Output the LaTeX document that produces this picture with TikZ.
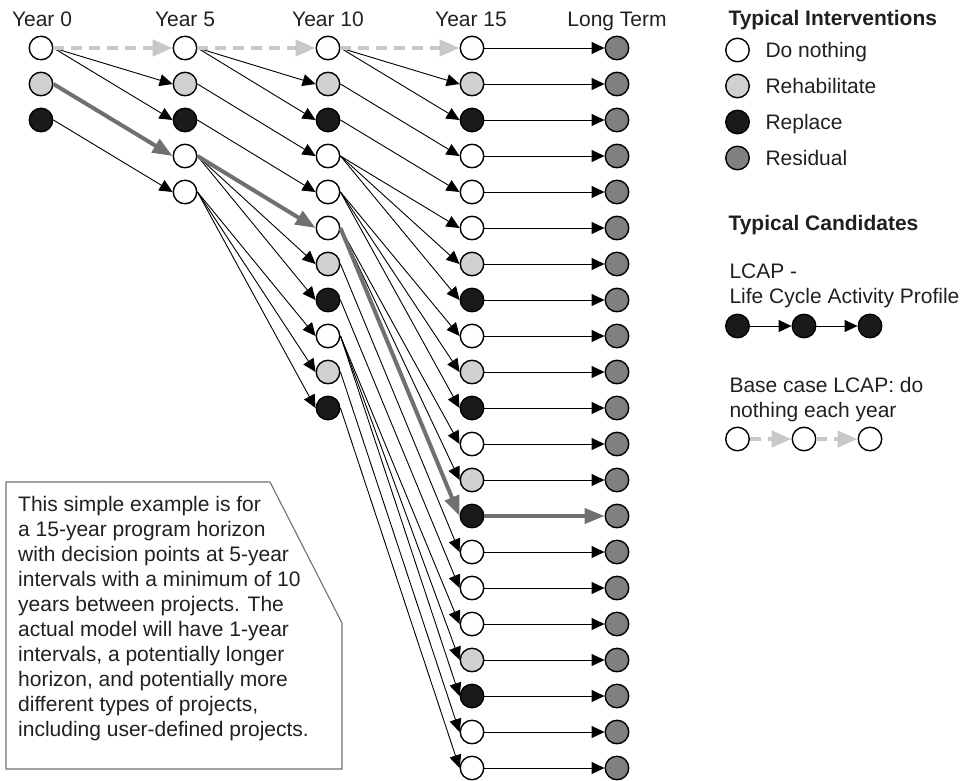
\documentclass[tikz,border=0pt]{standalone}
\usepackage{fontspec}
\setmainfont{Liberation Sans}
\usetikzlibrary{arrows.meta}
\definecolor{rehabc}{HTML}{D0D0D0}
\definecolor{replc}{HTML}{1A1A1A}
\definecolor{residc}{HTML}{808080}
\definecolor{dashc}{HTML}{C8C8C8}
\definecolor{pathc}{HTML}{707070}
\definecolor{boxc}{HTML}{707070}
\definecolor{inkc}{HTML}{231F20}
\begin{document}
\begin{tikzpicture}[x=1pt,y=-1pt,
  font=\fontsize{21}{25}\selectfont, text=inkc,
  stage/.style={circle, draw=black, line width=1.4pt, minimum size=23.5pt, inner sep=0pt},
  link/.style={line width=0.9pt, -{Triangle[length=13pt,width=12pt]}},
  basecase/.style={draw=dashc, line width=4.5pt, dash pattern=on 11pt off 7pt,
    -{Triangle[length=20pt,width=16pt,fill=dashc]}},
  chosen/.style={draw=pathc, line width=4pt, -{Triangle[length=20pt,width=15pt,fill=pathc]}},
  head/.style={anchor=base},
  legtext/.style={anchor=base west},
  notebox/.style={draw=boxc, line width=1.1pt},
]
\useasboundingbox (0,0) rectangle (961,780);

% column headings
\node[head] (h0) at (42,26) {Year 0};
\node[head] (h5) at (185,26) {Year 5};
\node[head] (h10) at (328,26) {Year 10};
\node[head] (h15) at (471,26) {Year 15};
\node[head] (hlt) at (617,26) {Long Term};

% decision stages
\foreach \c [count=\i from 0] in {white,rehabc,replc}
  \node[stage, fill=\c] (a\i) at (41,{48+36*\i}) {};
\foreach \c [count=\i from 0] in {white,rehabc,replc,white,white}
  \node[stage, fill=\c] (b\i) at (185,{48+36*\i}) {};
\foreach \c [count=\i from 0] in {white,rehabc,replc,white,white,white,rehabc,replc,white,rehabc,replc}
  \node[stage, fill=\c] (c\i) at (328,{48+36*\i}) {};
\foreach \c [count=\i from 0] in {white,rehabc,replc,white,white,white,rehabc,replc,white,rehabc,replc,white,rehabc,replc,white,white,white,rehabc,replc,white,white}
  \node[stage, fill=\c] (d\i) at (472,{48+36*\i}) {};
\foreach \i in {0,...,20}
  \node[stage, fill=residc] (e\i) at (617,{48+36*\i}) {};

% year 0 -> year 5
\foreach \s/\t in {0/1,0/2,2/4}
  \draw[link] (a\s.east) -- (b\t.west);
\draw[basecase] (a0.east) -- (b0.west);
\draw[chosen] (a1.east) -- (b3.west);

% year 5 -> year 10
\foreach \s/\t in {0/1,0/2,1/3,2/4,3/6,3/7,4/8,4/9,4/10}
  \draw[link] (b\s.east) -- (c\t.west);
\draw[basecase] (b0.east) -- (c0.west);
\draw[chosen] (b3.east) -- (c5.west);

% year 10 -> year 15
\foreach \s/\t in {0/1,0/2,1/3,2/4,3/5,3/6,3/7,4/8,4/9,4/10,5/11,5/12,6/14,7/15,8/16,8/17,8/18,9/19,10/20}
  \draw[link] (c\s.east) -- (d\t.west);
\draw[basecase] (c0.east) -- (d0.west);
\draw[chosen] (c5.east) -- (d13.west);

% year 15 -> long term
\foreach \i in {0,...,12,14,15,...,20}
  \draw[link] (d\i.east) -- (e\i.west);
\draw[chosen] (d13.east) -- (e13.west);

% legend: interventions
\node[legtext, font=\fontsize{21}{25}\selectfont\bfseries] (lgi) at (725,25) {Typical Interventions};
\foreach \c/\t [count=\i from 0] in {white/Do nothing,rehabc/Rehabilitate,replc/Replace,residc/Residual}{
  \node[stage, fill=\c] (k\i) at (737.5,{50+36*\i}) {};
  \node[legtext] (kt\i) at (762,{57+36*\i}) {\t};
}

% legend: candidates
\node[legtext, font=\fontsize{21}{25}\selectfont\bfseries] (lgc) at (725,230) {Typical Candidates};
\node[legtext] (lc1) at (726,278) {LCAP -};
\node[legtext] (lc2) at (726,303) {Life Cycle Activity Profile};
\node[stage, fill=replc] (p0) at (737.5,326) {};
\node[stage, fill=replc] (p1) at (804,326) {};
\node[stage, fill=replc] (p2) at (870,326) {};
\draw[link] (p0.east) -- (p1.west);
\draw[link] (p1.east) -- (p2.west);

\node[legtext] (lb1) at (726,392) {Base case LCAP: do};
\node[legtext] (lb2) at (726,417) {nothing each year};
\node[stage, fill=white] (q0) at (737.5,439) {};
\node[stage, fill=white] (q1) at (804,439) {};
\node[stage, fill=white] (q2) at (870,439) {};
\draw[basecase] (q0.east) -- (q1.west);
\draw[basecase] (q1.east) -- (q2.west);

% explanatory note
\draw[notebox] (6,482) -- (270,482) -- (342,623) -- (342,769) -- (6,769) -- cycle;
\node[anchor=north west, align=left, inner sep=0pt] (note) at (18,496) {This simple example is for\\
a 15-year program horizon\\
with decision points at 5-year\\
intervals with a minimum of 10\\
years between projects. The\\
actual model will have 1-year\\
intervals, a potentially longer\\
horizon, and potentially more\\
different types of projects,\\
including user-defined projects.};
\end{tikzpicture}
\end{document}
